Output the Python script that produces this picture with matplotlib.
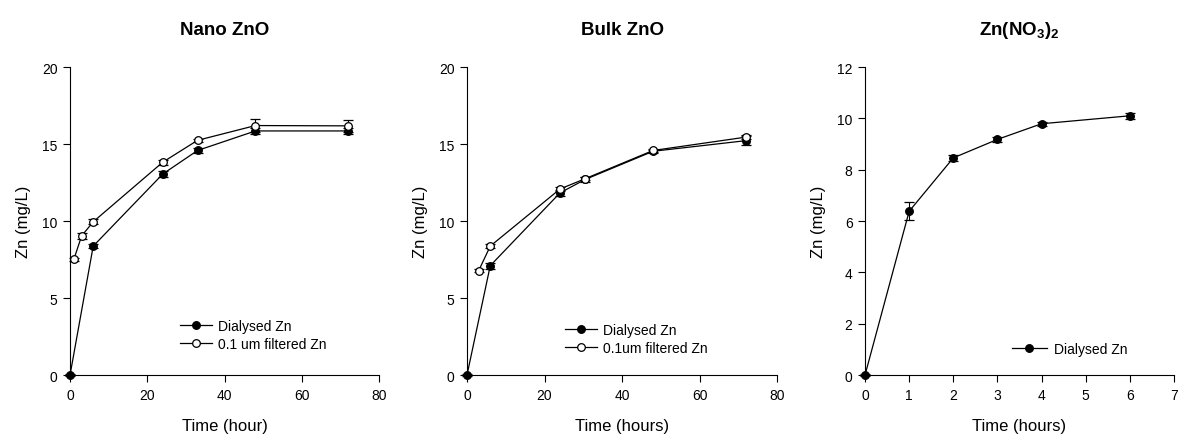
import matplotlib
matplotlib.use("Agg")
import matplotlib.pyplot as plt

plt.rcParams['font.family'] = ['Liberation Sans', 'DejaVu Sans']
plt.rcParams['mathtext.fontset'] = 'custom'
plt.rcParams['mathtext.rm'] = 'Liberation Sans'
plt.rcParams['mathtext.bf'] = 'Liberation Sans:bold'

# Nano ZnO
nano_dial_t = [0, 6, 24, 33, 48, 72]
nano_dial_zn = [0, 8.37, 13.05, 14.58, 15.85, 15.85]
nano_dial_err = [0.05, 0.15, 0.2, 0.15, 0.2, 0.2]
nano_filt_t = [1, 3, 6, 24, 33, 48, 72]
nano_filt_zn = [7.52, 9.03, 9.95, 13.82, 15.24, 16.2, 16.18]
nano_filt_err = [0.1, 0.2, 0.15, 0.15, 0.1, 0.42, 0.4]

# Bulk ZnO
bulk_dial_t = [0, 6, 24, 30.5, 48, 72]
bulk_dial_zn = [0, 7.1, 11.83, 12.7, 14.53, 15.22]
bulk_dial_err = [0.05, 0.2, 0.2, 0.15, 0.1, 0.3]
bulk_filt_t = [3, 6, 24, 30.5, 48, 72]
bulk_filt_zn = [6.77, 8.37, 12.08, 12.75, 14.58, 15.45]
bulk_filt_err = [0.1, 0.15, 0.1, 0.1, 0.1, 0.15]

# Zn(NO3)2
nit_t = [0, 1, 2, 3, 4, 6]
nit_zn = [0, 6.38, 8.46, 9.18, 9.79, 10.1]
nit_err = [0.05, 0.35, 0.12, 0.1, 0.08, 0.12]

fig = plt.figure(figsize=(11.79, 4.35), dpi=100)
ax1 = fig.add_axes([0.0594, 0.1356, 0.2621, 0.708])
ax2 = fig.add_axes([0.3961, 0.1356, 0.2630, 0.708])
ax3 = fig.add_axes([0.7337, 0.1356, 0.2620, 0.708])

ms = 5.5
lw = 0.9
cap = 3.5


def style(ax, xlim, ylim, xticks, yticks, xlabel, title):
    ax.set_xlim(*xlim)
    ax.set_ylim(*ylim)
    ax.set_xticks(xticks)
    ax.set_yticks(yticks)
    for s in ['top', 'right']:
        ax.spines[s].set_visible(False)
    for s in ['left', 'bottom']:
        ax.spines[s].set_linewidth(0.8)
    ax.tick_params(direction='out', length=5, width=0.8, labelsize=10, pad=4)
    ax.set_xlabel(xlabel, fontsize=12, labelpad=12)
    ax.set_ylabel('Zn (mg/L)', fontsize=12, labelpad=8)
    ax.set_title(title, fontsize=13.5, fontweight='bold', pad=24)


def series(ax, t, y, e, filled, label):
    eb = ax.errorbar(t, y, yerr=e, color='black', lw=lw, marker='o', ms=ms,
                     mfc='black' if filled else 'white', mec='black', mew=0.9,
                     capsize=cap, elinewidth=0.8, capthick=0.8, label=label,
                     zorder=3)
    eb[0].set_clip_on(False)
    for a in list(eb[1]) + list(eb[2]):
        a.set_clip_on(False)


series(ax1, nano_dial_t, nano_dial_zn, nano_dial_err, True, 'Dialysed Zn')
series(ax1, nano_filt_t, nano_filt_zn, nano_filt_err, False, '0.1 um filtered Zn')
style(ax1, (0, 80), (0, 20), range(0, 81, 20), range(0, 21, 5), 'Time (hour)', 'Nano ZnO')

series(ax2, bulk_dial_t, bulk_dial_zn, bulk_dial_err, True, 'Dialysed Zn')
series(ax2, bulk_filt_t, bulk_filt_zn, bulk_filt_err, False, '0.1um filtered Zn')
style(ax2, (0, 80), (0, 20), range(0, 81, 20), range(0, 21, 5), 'Time (hours)', 'Bulk ZnO')

series(ax3, nit_t, nit_zn, nit_err, True, 'Dialysed Zn')
style(ax3, (0, 7), (0, 12), range(0, 8), range(0, 13, 2), 'Time (hours)',
      r'$\mathbf{Zn(NO_3)_2}$')

for ax, anchor in [(ax1, (0.356, 0.13)), (ax2, (0.316, 0.117))]:
    h, l = ax.get_legend_handles_labels()
    h = [x[0] for x in h]
    ax.legend(h, l, loc='center left', bbox_to_anchor=anchor, frameon=False,
              fontsize=10, handlelength=2.3, handletextpad=0.45, labelspacing=0.3,
              borderpad=0, borderaxespad=0)

h, l = ax3.get_legend_handles_labels()
ax3.legend([h[0][0]], l, loc='center left', bbox_to_anchor=(0.476, 0.084), frameon=False,
           fontsize=10, handlelength=2.5, handletextpad=0.5, borderpad=0, borderaxespad=0)

fig.savefig('out.png', dpi=100)
